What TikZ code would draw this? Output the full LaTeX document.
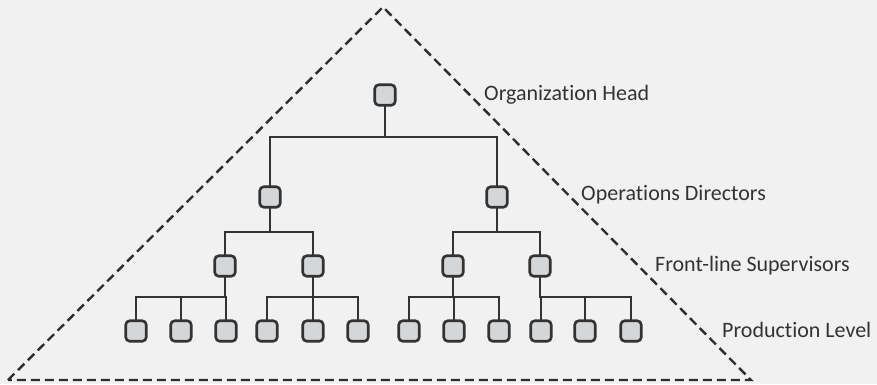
\documentclass[tikz,border=0pt]{standalone}
\usepackage{fontspec}
\setmainfont{Carlito}[Ligatures=NoCommon]
\begin{document}
\begin{tikzpicture}[x=1pt,y=-1pt,
  unit/.style={draw=linegray,fill=boxgray,line width=2.6pt,rounded corners=4pt,
               minimum size=20.5pt,inner sep=0pt,outer sep=0pt},
  link/.style={draw=linegray,line width=2.6pt},
  level/.style={anchor=base west,text=textgray,font=\fontsize{22}{26}\selectfont,inner sep=0pt},
  pyramid/.style={draw=linegray!90!black,line width=2.4pt,dash pattern=on 9pt off 5pt}]
\definecolor{linegray}{HTML}{333333}
\definecolor{boxgray}{HTML}{D5D6D8}
\definecolor{textgray}{HTML}{333333}
\definecolor{bggray}{HTML}{F1F1F1}
\fill[bggray] (0,0) rectangle (877,384);
\useasboundingbox (0,0) rectangle (877,384);

% pyramid outline
\coordinate (apex) at (383,7);
\coordinate (bl) at (8,380);
\coordinate (br) at (751,380);
\draw[pyramid] (bl) -- (apex) -- (br) -- cycle;

% head
\node[unit] (h) at (385,95) {};
% directors
\node[unit] (d1) at (270,197) {};
\node[unit] (d2) at (497,197) {};
% supervisors
\node[unit] (s1) at (225,266) {};
\node[unit] (s2) at (313,266) {};
\node[unit] (s3) at (453,266) {};
\node[unit] (s4) at (540,266) {};
% production
\foreach \n/\x in {p1/136,p2/181,p3/226,p4/267,p5/313,p6/358,
                   p7/409,p8/454,p9/499,p10/541,p11/585,p12/631}
  \node[unit] (\n) at (\x,331) {};

% bus levels
\coordinate (b0) at (0,137);
\coordinate (b1) at (0,232);
\coordinate (b2) at (0,297);

% connectors
\foreach \c in {d1,d2}
  \draw[link] (h.south) -- (h.south |- b0) -| (\c.north);
\foreach \c in {s1,s2}
  \draw[link] (d1.south) -- (d1.south |- b1) -| (\c.north);
\foreach \c in {s3,s4}
  \draw[link] (d2.south) -- (d2.south |- b1) -| (\c.north);
\foreach \c in {p1,p2,p3}
  \draw[link] (s1.south) -- (s1.south |- b2) -| (\c.north);
\foreach \c in {p4,p5,p6}
  \draw[link] (s2.south) -- (s2.south |- b2) -| (\c.north);
\foreach \c in {p7,p8,p9}
  \draw[link] (s3.south) -- (s3.south |- b2) -| (\c.north);
\foreach \c in {p10,p11,p12}
  \draw[link] (s4.south) -- (s4.south |- b2) -| (\c.north);

% level labels
\node[level] (l1) at (484,100) {Organization Head};
\node[level] (l2) at (581,200) {Operations Directors};
\node[level] (l3) at (655,271) {Front-line Supervisors};
\node[level] (l4) at (722,337) {Production Level};
\end{tikzpicture}
\end{document}
